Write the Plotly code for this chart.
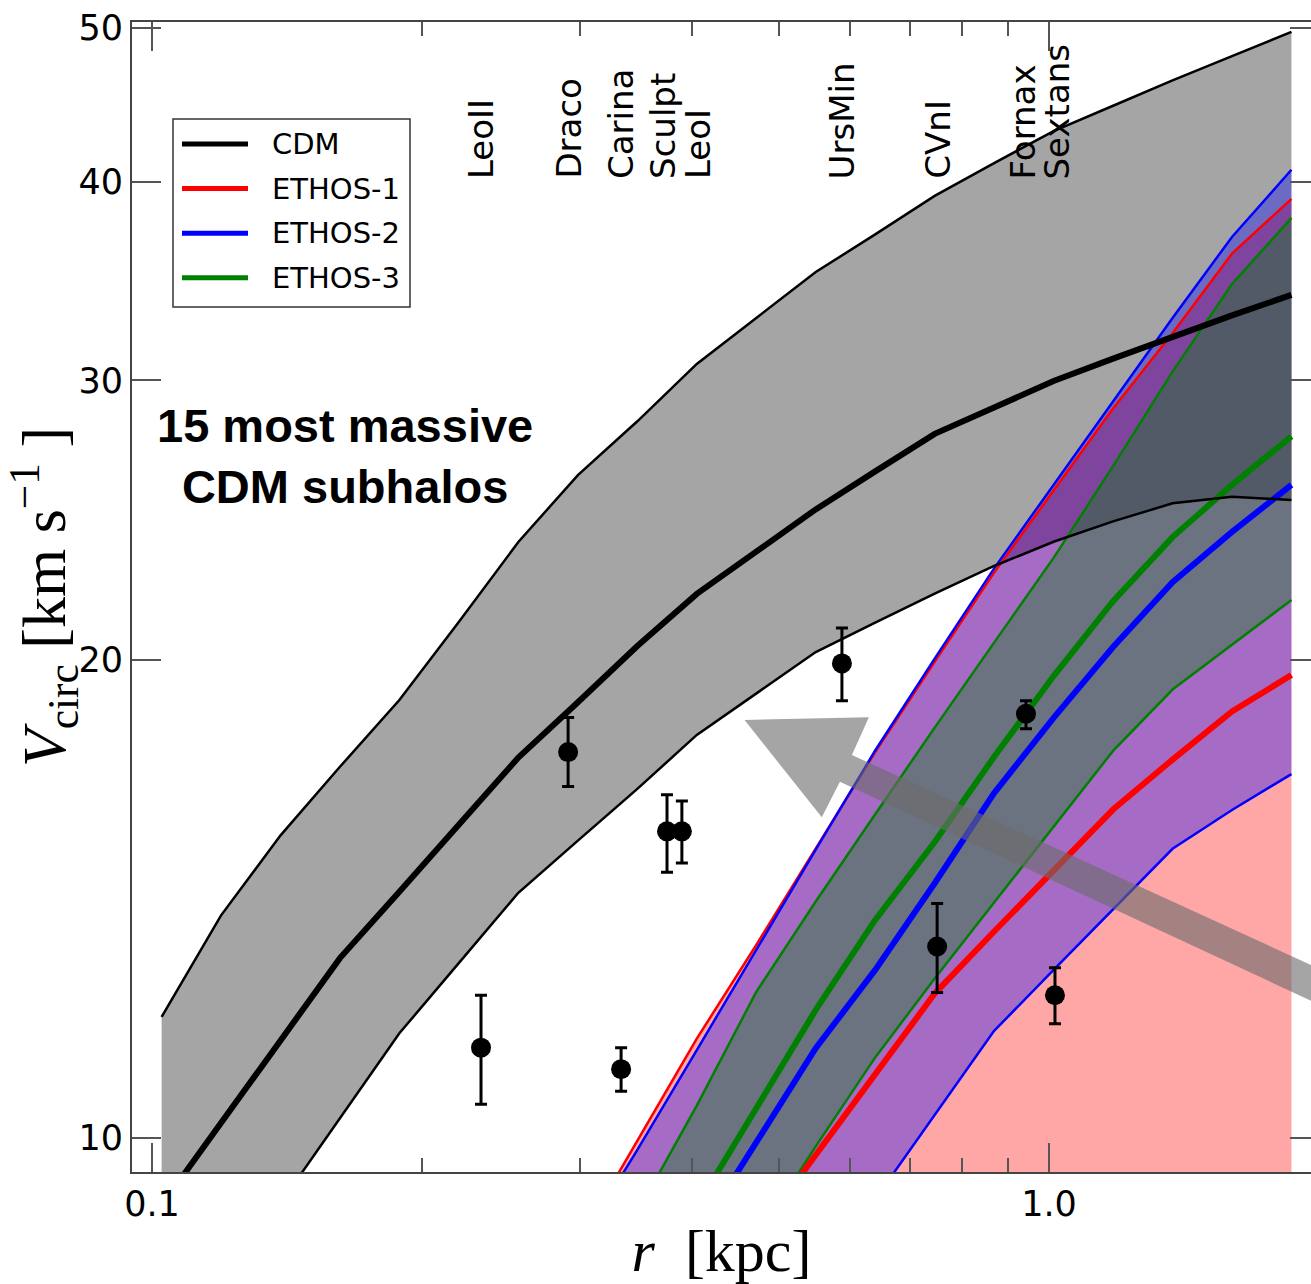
import numpy as np
import plotly.graph_objects as go

# ---------------------------------------------------------------- data
# radial grid of the subhalo rotation-curve statistics [kpc]
R_GRID = [0.1025, 0.1194, 0.1391, 0.1620, 0.1887, 0.2199, 0.2561, 0.2984,
          0.3476, 0.4049, 0.4717, 0.5495, 0.6401, 0.7457, 0.8686, 1.0119,
          1.1788, 1.3732, 1.5996, 1.8634]

# CDM: 15 most massive subhalos, scatter band and median [km/s]
CDM_HI = [11.92, 13.81, 15.51, 17.13, 18.87, 21.14, 23.73, 26.15, 28.27, 30.72,
          32.84, 35.10, 37.07, 39.20, 41.11, 43.06, 44.67, 46.35, 48.00, 49.72]
CDM_MED = [9.07, 10.22, 11.52, 12.98, 14.29, 15.75, 17.36, 18.81, 20.41, 22.01,
           23.43, 24.88, 26.29, 27.76, 28.84, 29.97, 30.96, 31.98, 32.96, 33.96]
CDM_LO = [7.11, 8.04, 9.10, 10.29, 11.64, 12.89, 14.27, 15.39, 16.59, 17.94,
          19.05, 20.23, 21.11, 22.02, 22.92, 23.74, 24.45, 25.10, 25.34, 25.22]

# ETHOS models share the outer part of the grid
R_ETHOS = R_GRID[7:]
ETHOS1_HI = [8.59, 9.96, 11.55, 13.23, 15.21, 17.50, 19.95, 22.70, 25.57, 28.80, 32.12, 36.05, 39.03]
ETHOS1_MED = [6.10, 6.88, 7.72, 8.68, 9.75, 10.95, 12.33, 13.49, 14.75, 16.10, 17.31, 18.56, 19.57]
ETHOS1_LO = [3.6, 4.1, 4.6, 5.1, 5.6, 6.2, 6.8, 7.3, 7.8, 8.3, 8.7, 9.0, 9.3]
ETHOS2_HI = [8.54, 9.83, 11.36, 13.15, 15.19, 17.54, 20.04, 22.84, 25.79, 29.10, 32.84, 36.93, 40.71]
ETHOS2_MED = [6.60, 7.57, 8.68, 9.96, 11.39, 12.76, 14.47, 16.49, 18.39, 20.38, 22.39, 24.08, 25.78]
ETHOS2_LO = [4.98, 5.63, 6.36, 7.18, 8.10, 9.15, 10.34, 11.68, 12.76, 13.93, 15.21, 16.09, 16.95]
ETHOS3_HI = [7.69, 8.98, 10.48, 12.36, 14.09, 15.99, 18.13, 20.51, 23.19, 26.49, 30.38, 34.49, 37.97]
ETHOS3_MED = [6.81, 7.855, 9.07, 10.47, 12.04, 13.72, 15.36, 17.38, 19.54, 21.78, 23.90, 25.78, 27.66]
ETHOS3_LO = [5.79, 6.62, 7.57, 8.65, 9.88, 11.24, 12.60, 14.07, 15.71, 17.53, 19.16, 20.44, 21.82]

# Milky Way dwarf spheroidals: V_circ at the half-light radius
DSPH_NAMES = ["LeoII", "Draco", "Carina", "Sculpt", "LeoI", "UrsMin", "CVnI", "Fornax", "Sextans"]
DSPH_R = [0.2327, 0.2910, 0.3334, 0.3751, 0.3897, 0.5877, 0.7504, 0.9427, 1.0155]
DSPH_V = [11.4, 17.5, 11.05, 15.6, 15.6, 19.9, 13.2, 18.5, 12.3]
DSPH_ERR_HI = [0.9, 0.9, 0.35, 0.85, 0.7, 1.05, 0.85, 0.35, 0.5]
DSPH_ERR_LO = [0.9, 0.85, 0.35, 0.9, 0.7, 1.05, 0.85, 0.4, 0.5]
# horizontal placement of the name columns along the top [kpc]
LABEL_R = [0.2327, 0.2910, 0.3334, 0.3712, 0.4062, 0.5877, 0.7504, 0.9354, 1.0207]

MODEL_NAMES = ["CDM", "ETHOS-1", "ETHOS-2", "ETHOS-3"]
MODEL_COLORS = ["black", "#ff0000", "#0000ff", "#008000"]

X_TICKS = [0.1, 1.0]
X_TICKTEXT = ["0.1", "1.0"]
X_MINOR = [0.2, 0.3, 0.4, 0.5, 0.6, 0.7, 0.8, 0.9]
Y_TICKS = [10, 20, 30, 40, 50]

# ---------------------------------------------------------------- layout geometry
W, H = 1311, 1284
ML, MR, MT, MB = 132, 0, 22, 112
PW, PH = W - ML - MR, H - MT - MB
X_RANGE = [-1.0223, 0.2921]
Y_RANGE = [0.97859, 1.70277]


def paper(px, py):
    """Canvas pixel -> paper fraction of the plotting area."""
    return (px - ML) / PW, (H - MB - py) / PH


def band(x, lo, hi, color):
    return go.Scatter(x=list(x) + list(x)[::-1], y=list(hi) + list(lo)[::-1],
                      fill="toself", fillcolor=color, mode="none",
                      hoverinfo="skip", showlegend=False)


def line(x, y, color, width):
    return go.Scatter(x=x, y=y, mode="lines", line=dict(color=color, width=width),
                      hoverinfo="skip", showlegend=False)


fig = go.Figure()

# scatter bands
fig.add_trace(band(R_GRID, CDM_LO, CDM_HI, "#a5a5a5"))
fig.add_trace(band(R_ETHOS, ETHOS1_LO, ETHOS1_HI, "rgba(255,0,0,0.35)"))
fig.add_trace(band(R_ETHOS, ETHOS2_LO, ETHOS2_HI, "rgba(0,0,255,0.35)"))
fig.add_trace(band(R_ETHOS, ETHOS3_LO, ETHOS3_HI, "rgba(0,128,0,0.35)"))

# band edges and medians
fig.add_trace(line(R_ETHOS, ETHOS1_HI, MODEL_COLORS[1], 2.5))
fig.add_trace(line(R_ETHOS, ETHOS2_HI, MODEL_COLORS[2], 2.5))
fig.add_trace(line(R_ETHOS, ETHOS2_LO, MODEL_COLORS[2], 2.5))
fig.add_trace(line(R_ETHOS, ETHOS3_HI, MODEL_COLORS[3], 2.5))
fig.add_trace(line(R_ETHOS, ETHOS3_LO, MODEL_COLORS[3], 2.5))
fig.add_trace(line(R_ETHOS, ETHOS3_MED, MODEL_COLORS[3], 6))
fig.add_trace(line(R_ETHOS, ETHOS2_MED, MODEL_COLORS[2], 6))
fig.add_trace(line(R_ETHOS, ETHOS1_MED, MODEL_COLORS[1], 6))
fig.add_trace(line(R_GRID, CDM_HI, "black", 2.5))
fig.add_trace(line(R_GRID, CDM_LO, "black", 2.5))
fig.add_trace(line(R_GRID, CDM_MED, "black", 6))

# dwarf spheroidals
fig.add_trace(go.Scatter(
    x=DSPH_R, y=DSPH_V, mode="markers", text=DSPH_NAMES,
    marker=dict(color="black", size=20),
    error_y=dict(type="data", array=DSPH_ERR_HI, arrayminus=DSPH_ERR_LO,
                 color="black", thickness=3, width=6),
    showlegend=False, hovertemplate="%{text}: %{y} km/s<extra></extra>"))

# invisible companion trace so the right-hand tick axis is laid out
fig.add_trace(go.Scatter(x=DSPH_R[:1], y=DSPH_V[:1], yaxis="y2", mode="markers",
                         marker=dict(opacity=0), hoverinfo="skip", showlegend=False))

shapes = []
annotations = []

# dwarf names along the top
for name, r in zip(DSPH_NAMES, LABEL_R):
    annotations.append(dict(
        x=np.log10(r), xref="x", y=paper(0, 180)[1], yref="paper",
        text=name, textangle=-90, showarrow=False,
        xanchor="center", yanchor="bottom", borderpad=0,
        font=dict(family="DejaVu Sans", size=34, color="black")))

annotations.append(dict(
    x=paper(345, 0)[0], y=paper(0, 456)[1], xref="paper", yref="paper",
    text="<b>15 most massive<br>CDM subhalos</b>", showarrow=False,
    xanchor="center", yanchor="middle", align="center",
    font=dict(family="Liberation Sans", size=47, color="black")))

# legend box
lx0, ly0 = paper(173, 119)
lx1, ly1 = paper(410, 307)
shapes.append(dict(type="rect", xref="paper", yref="paper", x0=lx0, y0=ly0, x1=lx1, y1=ly1,
                   line=dict(color="#333333", width=1.5), fillcolor="white", layer="above"))
for i, (name, col) in enumerate(zip(MODEL_NAMES, MODEL_COLORS)):
    row_y = 144 + 44.6 * i
    sx0, sy = paper(182, row_y)
    sx1, _ = paper(248, row_y)
    shapes.append(dict(type="line", xref="paper", yref="paper", x0=sx0, x1=sx1, y0=sy, y1=sy,
                       line=dict(color=col, width=5), layer="above"))
    annotations.append(dict(x=paper(270, 0)[0], y=sy, xref="paper", yref="paper",
                            text=name, showarrow=False, xanchor="left", yanchor="middle",
                            font=dict(family="DejaVu Sans", size=29, color="black")))

# big translucent arrow pointing from the ETHOS bands toward the CDM band
arrow_px = [(744.5, 720), (868.9, 717.3), (851.9, 755), (1345, 980.5),
            (1345, 1016.5), (839.9, 781.7), (821.8, 817.3)]
pts = [paper(x, y) for x, y in arrow_px]
path = "M " + " L ".join(f"{x:.5f},{y:.5f}" for x, y in pts) + " Z"
shapes.append(dict(type="path", xref="paper", yref="paper", path=path,
                   fillcolor="rgba(108,108,108,0.61)", line=dict(width=0), layer="above"))

axis_font = dict(family="DejaVu Sans", size=35, color="black")

fig.update_layout(
    width=W, height=H, margin=dict(l=ML, r=MR, t=MT, b=MB),
    paper_bgcolor="white", plot_bgcolor="white",
    showlegend=False, shapes=shapes, annotations=annotations,
    xaxis=dict(type="log", range=X_RANGE, tickvals=X_TICKS, ticktext=X_TICKTEXT,
               ticks="inside", ticklen=29, tickwidth=1.5, tickcolor="#555555",
               minor=dict(tickvals=X_MINOR, ticks="inside", ticklen=14,
                          tickwidth=1.5, tickcolor="#555555", showgrid=False),
               showline=True, linecolor="#444444", linewidth=2, mirror="ticks",
               showgrid=False, zeroline=False, tickfont=axis_font,
               title=dict(text="<i>r</i>  [kpc]", standoff=6,
                          font=dict(family="Liberation Serif", size=60, color="black"))),
    yaxis=dict(type="log", range=Y_RANGE, tickvals=Y_TICKS,
               ticks="inside", ticklen=29, tickwidth=1.5, tickcolor="#555555",
               showline=True, linecolor="#444444", linewidth=2,
               showgrid=False, zeroline=False, tickfont=axis_font,
               title=dict(text="<i>V</i><sub>circ</sub> [km s<sup>\u22121</sup> ]", standoff=2,
                          font=dict(family="Liberation Serif", size=62, color="black"))),
    yaxis2=dict(type="log", range=Y_RANGE, tickvals=Y_TICKS, overlaying="y", side="right",
                ticks="inside", ticklen=21, tickwidth=1.5, tickcolor="#555555",
                showticklabels=False, showline=False, showgrid=False, zeroline=False),
)

fig.write_html("out.html")
